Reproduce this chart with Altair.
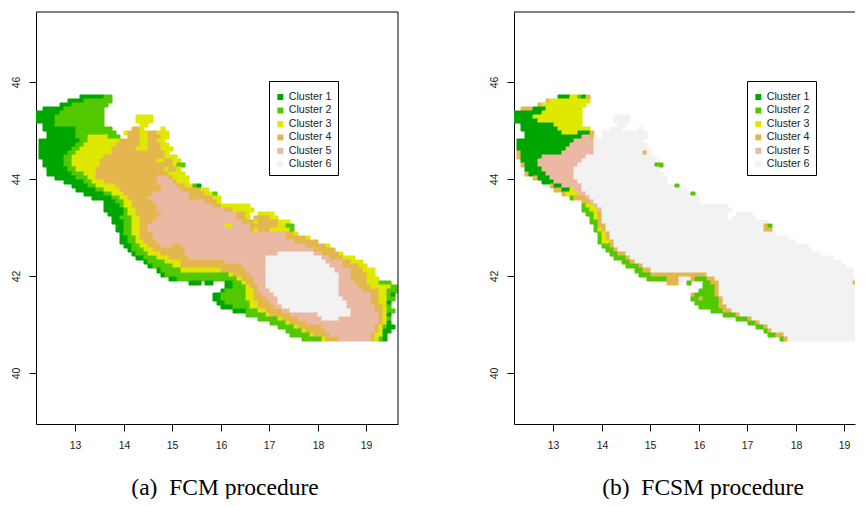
import altair as alt
import pandas as pd

CLUSTERS = ["Cluster 1", "Cluster 2", "Cluster 3", "Cluster 4", "Cluster 5", "Cluster 6"]
COLORS = ["#00A600", "#52C800", "#DEE800", "#E3B64E", "#EBB9A3", "#F2F2F2"]

# Each row is one band of latitude (north to south): "column:cluster" run starts, 0 = empty.
ROWS_A = [
"11:1 17:2 19:0","8:1 12:2 19:0","6:1 9:2 18:0","2:1 7:2 17:0","0:1 6:2 17:0",
"0:1 5:2 17:0 25:3 29:0","0:1 5:2 17:0 25:3 29:0","2:1 5:2 17:0 26:3 28:0",
"2:1 10:2 19:0 24:4 26:3 27:0 31:3 32:0","3:1 10:2 20:0 22:3 23:4 26:3 28:4 30:3 33:0",
"3:1 10:2 13:3 18:2 21:0 23:4 26:3 28:4 31:3 33:0","1:1 11:2 13:3 21:4 26:3 28:4 30:3 32:0",
"1:1 10:2 12:3 20:4 26:3 28:4 31:3 33:0","1:1 9:2 11:3 19:4 25:3 28:4 31:3 34:0",
"1:1 8:2 10:3 19:4 32:3 33:0","1:1 7:2 9:3 17:4 32:3 35:0",
"2:1 7:2 9:3 16:4 30:3 32:4 34:3 36:0","2:1 7:2 9:3 16:4 34:3 35:2 37:0",
"3:1 8:2 10:3 15:4 32:3 33:4 35:3 36:0","3:1 9:2 12:3 15:4 33:3 37:0",
"5:1 10:2 13:3 15:4 30:5 33:4 34:3 38:0","7:1 12:2 14:3 17:4 30:5 34:4 35:3 38:0",
"9:1 13:2 15:3 20:4 31:5 35:4 37:3 39:2 40:1 41:0","10:1 15:2 17:3 21:4 31:5 36:4 41:3 43:0",
"12:1 17:2 19:3 22:4 29:5 38:4 42:3 44:2 45:0","14:1 19:2 21:3 23:4 28:5 38:4 44:3 46:0",
"17:1 20:2 22:3 24:4 29:5 42:4 45:3 46:0","17:1 21:2 22:3 24:4 30:5 44:4 46:3 53:0",
"17:1 22:2 23:3 25:4 30:5 47:4 49:3 54:0","18:1 22:2 23:3 25:4 31:5 50:4 52:3 53:0 55:3 59:0",
"19:1 21:2 24:3 26:4 30:5 50:4 52:3 53:0 54:4 58:3 60:0","19:1 22:2 24:3 26:4 29:5 51:4 54:3 55:4 60:3 63:0",
"20:1 22:2 24:3 26:4 28:5 47:3 49:5 53:4 60:3 62:2 64:0","20:1 22:2 24:3 26:4 28:5 53:4 54:3 55:4 58:3 63:2 64:0",
"21:1 22:2 24:3 26:4 29:5 62:4 64:3 65:0","21:1 23:2 25:3 26:4 29:5 62:4 67:3 68:0",
"21:1 23:2 25:3 27:4 30:5 64:4 70:0","22:1 24:2 26:3 28:4 31:5 34:4 36:5 67:4 72:3 73:0",
"23:1 24:2 27:3 29:4 37:5 69:4 74:0","24:1 25:2 28:3 31:4 37:5 60:6 69:5 71:4 75:3 76:0",
"25:1 27:2 30:3 33:4 38:5 57:6 71:5 73:4 76:3 79:0","27:1 28:2 32:3 36:4 47:5 57:6 72:5 76:4 78:3 81:0",
"28:1 29:2 34:3 36:4 51:5 57:6 73:5 76:4 80:3 82:0","30:1 31:2 36:3 46:4 52:5 57:6 74:5 78:4 81:3 84:0",
"31:1 32:2 48:3 49:4 53:5 57:6 75:5 78:4 82:3 84:0","33:1 35:2 50:3 51:4 54:5 57:6 75:5 78:4 82:3 85:0",
"38:1 41:0 42:1 44:0 47:1 49:2 51:3 52:4 54:5 57:6 75:5 79:4 82:3 85:2 88:0",
"47:1 49:2 52:3 53:4 55:5 57:6 75:5 80:4 83:3 88:2 90:0","46:1 47:2 52:3 54:4 55:5 58:6 75:5 81:4 85:3 87:2 90:0",
"44:1 46:2 52:3 54:4 56:5 59:6 75:5 83:4 85:3 87:2 88:1 89:0","44:1 46:2 52:3 54:4 57:5 60:6 76:5 83:4 85:3 87:2 89:0",
"45:1 47:2 53:3 55:4 58:5 60:6 77:5 83:4 85:3 87:1 88:0","46:1 49:2 53:3 55:4 59:5 61:6 77:5 84:4 86:3 87:2 88:0",
"49:1 52:2 55:3 57:4 61:5 63:6 78:5 84:4 86:3 87:2 89:0","52:2 57:3 58:4 63:5 70:6 78:5 85:4 86:3 87:1 88:0",
"55:2 60:3 61:4 65:5 71:6 75:5 85:4 86:3 87:2 88:0","58:2 62:3 63:4 67:5 85:4 86:3 87:1 88:0",
"60:2 64:3 65:4 71:5 84:4 85:3 86:2 87:1 89:0","62:2 66:3 67:4 72:5 84:4 85:3 86:1 88:0",
"63:2 68:3 69:4 73:5 83:4 84:3 86:1 87:0","66:2 71:3 72:4 75:5 83:4 84:3 85:2 86:1 87:0",
]

ROWS_B = [
"11:1 14:3 16:2 17:1 18:4 19:0","8:4 9:3 19:0","6:4 7:3 18:0","2:4 5:1 8:3 17:0","0:1 7:3 17:0",
"0:1 5:3 17:0 25:6 29:0","0:1 6:3 17:0 25:6 29:0","2:1 10:3 17:0 26:6 28:0",
"2:1 11:3 19:0 24:6 27:0 31:6 32:0","3:1 12:3 16:1 19:4 20:0 22:6 33:0",
"3:1 17:5 19:4 20:6 21:0 22:6 33:0","1:1 15:5 20:6 32:0","1:1 14:5 20:6 33:0","1:1 13:5 20:6 34:0",
"1:4 2:1 12:5 20:6 32:4 33:6 34:0","1:4 2:1 7:5 18:6 35:0","2:1 6:5 17:6 36:0","2:4 3:1 6:5 16:6 35:2 37:0",
"3:1 7:5 15:6 36:0","3:4 4:1 8:5 15:6 37:0","5:4 6:1 9:5 15:6 38:0","7:1 10:5 16:6 38:0",
"9:4 10:1 12:5 17:6 40:2 41:0","10:4 12:1 14:3 15:5 17:6 43:0","12:4 13:3 16:5 18:6 44:2 45:0",
"14:2 15:4 18:5 19:6 46:0","17:4 19:5 20:6 46:0","17:2 18:3 20:5 21:6 53:0","17:2 19:3 21:5 22:6 54:0",
"18:2 20:3 21:4 22:6 53:0 55:6 59:0","19:2 20:3 21:4 22:6 53:0 54:6 60:0","19:2 21:4 22:6 63:0",
"20:2 21:4 23:6 62:4 63:2 64:0","20:2 21:3 22:4 23:6 62:4 64:0","21:2 22:3 23:4 24:6 65:0",
"21:2 22:3 23:4 24:6 68:0","21:2 22:3 24:4 25:6 70:0","22:2 24:4 25:6 73:0","23:2 25:4 26:6 74:0",
"24:2 26:4 28:6 76:0","25:2 28:4 29:6 79:0","27:2 29:4 30:6 81:0","28:2 31:4 32:6 82:0","30:2 32:4 34:6 84:0",
"31:2 34:4 48:6 84:0","33:2 38:4 41:6 44:4 45:2 48:4 50:6 85:0",
"38:4 41:6 42:0 43:2 44:0 47:2 49:4 51:6 84:4 85:2 88:0","47:2 50:4 51:6 85:4 88:0","46:2 50:4 51:6 88:0",
"44:4 45:2 50:4 51:6 88:0","44:2 46:4 47:2 51:4 52:6 88:0","45:2 51:4 52:6 86:4 88:0","46:2 51:4 53:6 86:2 88:0",
"49:2 52:4 54:6 88:0","52:2 55:4 56:6 88:0","55:2 58:4 59:6 88:0","58:2 60:4 61:6 88:0","60:2 62:4 63:6 86:4 88:0",
"62:2 63:4 64:6 85:4 86:2 88:0","63:2 65:4 67:6 85:4 86:2 88:0","66:2 67:4 68:6 85:2 88:0",
]

LON_WEST, LAT_NORTH, STEP = 12.175, 45.732, 1 / 12
X_TICKS = [13, 14, 15, 16, 17, 18, 19]
Y_TICKS = [40, 42, 44, 46]
X_DOMAIN_A = [12.19, 19.65]
X_DOMAIN_B = [12.19, 19.221]   # the right-hand panel runs off the edge of the picture
Y_DOMAIN = [38.94, 47.44]
PANEL_H = 412


def table(rows):
    out = []
    for j, row in enumerate(rows):
        runs = [tuple(int(v) for v in p.split(":")) for p in row.split()]
        for (k0, c), (k1, _) in zip(runs, runs[1:]):
            if c:
                out.append({
                    "lon": LON_WEST + k0 * STEP, "lon2": LON_WEST + k1 * STEP,
                    "lat": LAT_NORTH - j * STEP, "lat2": LAT_NORTH - (j + 1) * STEP,
                    "cluster": CLUSTERS[c - 1],
                })
    return pd.DataFrame(out)


def panel(rows, caption, title_x, x_domain, width, closed):
    scale = alt.Scale(domain=CLUSTERS, range=COLORS)
    cells = alt.Chart(table(rows)).mark_rect(clip=True, strokeWidth=1).encode(
        x=alt.X("lon:Q", scale=alt.Scale(domain=x_domain, nice=False, zero=False, round=True),
                axis=alt.Axis(values=X_TICKS, grid=False, tickSize=7, tickColor="black", domain=True,
                              domainColor="black",
                              labelFont="Liberation Sans", labelFontSize=10.5, labelColor="#222222",
                              labelPadding=9, format="d", labelFlush=False, title=caption,
                              titleFont="Liberation Serif", titleFontSize=23.5, titleFontWeight="normal",
                              titleColor="black", titleX=title_x, titleY=70, titleAlign="center",
                              titleBaseline="alphabetic")),
        x2="lon2:Q",
        y=alt.Y("lat:Q", scale=alt.Scale(domain=Y_DOMAIN, nice=False, zero=False, round=True),
                axis=alt.Axis(values=Y_TICKS, grid=False, tickSize=7, tickColor="black", domain=True,
                              domainColor="black",
                              labelFont="Liberation Sans", labelFontSize=10.5, labelColor="#222222",
                              labelPadding=8, labelAngle=270, format="d", title=None)),
        y2="lat2:Q",
        color=alt.Color("cluster:N", scale=scale,
                        legend=alt.Legend(title=" ", titleFontSize=2, titlePadding=2.7,
                                          orient="none", legendX=233, legendY=69,
                                          strokeColor="black", fillColor="white", padding=6,
                                          symbolType="square", symbolSize=36, symbolStrokeWidth=0,
                                          labelFont="Liberation Sans", labelFontSize=10.7,
                                          labelColor="#222222", labelOffset=3, rowPadding=1.45)),
        stroke=alt.Stroke("cluster:N", scale=scale, legend=None),
    )
    top = alt.Chart(pd.DataFrame({"a": [0]})).mark_rule(color="black", strokeWidth=1).encode(
        y=alt.value(0), x=alt.value(0), x2=alt.value(width))
    layers = [cells, top]
    if closed:
        layers.append(alt.Chart(pd.DataFrame({"a": [0]})).mark_rule(color="black", strokeWidth=1).encode(
            x=alt.value(width), y=alt.value(0), y2=alt.value(PANEL_H)))
    return alt.layer(*layers).properties(width=width, height=PANEL_H)


chart = alt.hconcat(
    panel(ROWS_A, "(a)\u00a0 FCM procedure", 188.5, X_DOMAIN_A, 362, True),
    panel(ROWS_B, "(b)\u00a0 FCSM procedure", 188.5, X_DOMAIN_B, 341, False),
    spacing=90,
).resolve_scale(color="independent", stroke="independent").configure_view(
    stroke=None
).properties(padding={"left": 3, "top": 3, "right": 0, "bottom": 0}, background="white")

chart.save("out.html", embed_options={"renderer": "svg", "actions": False})
